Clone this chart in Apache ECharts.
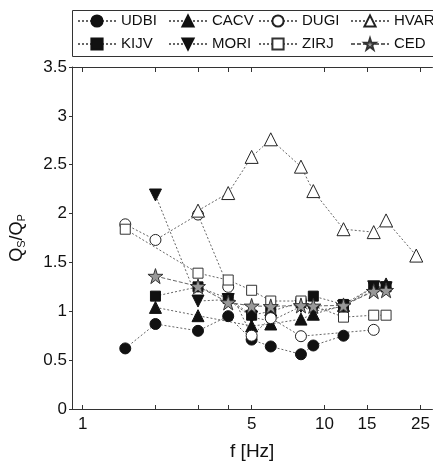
<!DOCTYPE html>
<html>
<head>
<meta charset="utf-8">
<title>Qs/Qp</title>
<script src="https://cdn.jsdelivr.net/npm/echarts@6/dist/echarts.min.js"></script>
<style>
  html, body { margin: 0; padding: 0; background: #fff; }
  #main { width: 433px; height: 466px; }
</style>
</head>
<body>
<div id="main"></div>
<script type="text/javascript">
    // frequency ticks / labels on the log axis
    var tickVals = [1, 2, 3, 4, 5, 10, 15, 25];
    var labelVals = [1, 5, 10, 15, 25];

    // stations: frequency (Hz) and Qs/Qp
    var udbiF = [1.5, 2, 3, 4, 5, 6, 8, 9, 12];
    var udbiV = [0.62, 0.87, 0.80, 0.95, 0.71, 0.64, 0.56, 0.65, 0.75];

    var cacvF = [2, 3, 5, 6, 8, 9, 12, 18];
    var cacvV = [1.04, 0.955, 0.85, 0.87, 0.92, 0.97, 1.06, 1.28];

    var kijvF = [2, 3, 4, 5, 6, 8, 9, 12, 16, 18];
    var kijvV = [1.155, 1.25, 1.13, 0.96, 1.0, 1.09, 1.155, 1.07, 1.25, 1.25];

    var moriF = [2, 3, 4, 5, 6, 8, 9, 12, 16, 18];
    var moriV = [2.19, 1.105, 1.12, 0.94, 0.9, 1.05, 1.0, 1.05, 1.25, 1.24];

    var dugiF = [1.5, 2, 3, 4, 5, 6, 8, 16];
    var dugiV = [1.89, 1.73, 1.99, 1.25, 0.75, 0.93, 0.745, 0.81];

    var zirjF = [1.5, 3, 4, 5, 6, 8, 12, 16, 18];
    var zirjV = [1.84, 1.39, 1.32, 1.215, 1.105, 1.105, 0.94, 0.96, 0.96];

    var hvarF = [3, 4, 5, 6, 8, 9, 12, 16, 18, 24];
    var hvarV = [2.03, 2.21, 2.58, 2.76, 2.48, 2.23, 1.84, 1.81, 1.93, 1.57];

    var cedF = [2, 3, 4, 5, 6, 8, 9, 12, 16, 18];
    var cedV = [1.36, 1.255, 1.09, 1.055, 1.05, 1.06, 1.055, 1.06, 1.205, 1.215];

    var STAR = 'path://M50,0L61.2,34.5L97.6,34.5L68.2,55.9L79.4,90.5L50,69.1L20.6,90.5L31.8,55.9L2.4,34.5L38.8,34.5Z';
    var DOWN = 'path://M0,0L10,0L5,9Z';
    var FONT = '"Liberation Sans", Arial, sans-serif';

    function pairs(f, v) {
        var out = [];
        for (var i = 0; i < f.length; i++) out.push([f[i], v[i]]);
        return out;
    }

    function station(name, f, v, symbol, size, fill, border, dash) {
        return {
            name: name,
            type: 'line',
            data: pairs(f, v),
            symbol: symbol,
            symbolSize: size,
            showAllSymbol: true,
            animation: false,
            lineStyle: { color: '#666', width: 1, type: dash || [2, 2] },
            itemStyle: { color: fill, borderColor: border, borderWidth: 1, opacity: 1 },
            emphasis: { disabled: true }
        };
    }

    var myChart = echarts.init(document.getElementById('main'));

    function legendCol(left, names) {
        return {
            data: names,
            orient: 'vertical',
            left: left,
            top: 13,
            padding: 0,
            itemGap: 7,
            itemWidth: 38,
            itemHeight: 14,
            selectedMode: false,
            textStyle: { fontFamily: FONT, fontSize: 15, color: '#111', lineHeight: 16 }
        };
    }

    var option = {
        backgroundColor: '#fff',
        animation: false,
        textStyle: { fontFamily: FONT },
        graphic: [{
            type: 'rect',
            shape: { x: 72.5, y: 10.5, width: 400, height: 46 },
            style: { fill: 'none', stroke: '#333', lineWidth: 1 },
            silent: true
        }],
        legend: [
            legendCol(77, ['UDBI', 'KIJV']),
            legendCol(168, ['CACV', 'MORI']),
            legendCol(258, ['DUGI', 'ZIRJ']),
            legendCol(350, ['HVAR', 'CED'])
        ],
        grid: { left: 72, top: 67, right: 0, bottom: 51, containLabel: false },
        xAxis: [{
            type: 'log',
            logBase: 10,
            min: 0.903,
            max: 28,
            name: 'f [Hz]',
            nameLocation: 'middle',
            nameGap: 33,
            nameTextStyle: { fontFamily: FONT, fontSize: 19, color: '#111' },
            axisLine: { lineStyle: { color: '#333', width: 1 } },
            axisTick: { inside: true, length: 4, customValues: tickVals, lineStyle: { color: '#333' } },
            axisLabel: { customValues: labelVals, fontFamily: FONT, fontSize: 17, color: '#111', margin: 7 },
            splitLine: { show: false },
            minorTick: { show: false }
        }, {
            type: 'log',
            logBase: 10,
            min: 0.903,
            max: 28,
            position: 'top',
            axisLine: { lineStyle: { color: '#333', width: 1 } },
            axisTick: { inside: true, length: 5, customValues: tickVals, lineStyle: { color: '#333' } },
            axisLabel: { show: false },
            splitLine: { show: false }
        }],
        yAxis: {
            type: 'value',
            min: 0,
            max: 3.5,
            interval: 0.5,
            name: 'Q{s|S}/Q{s|P}',
            nameLocation: 'middle',
            nameRotate: 90,
            nameGap: 45,
            nameTextStyle: {
                fontFamily: FONT, fontSize: 18, color: '#111',
                rich: { s: { fontFamily: FONT, fontSize: 11, color: '#111', verticalAlign: 'bottom', padding: [8, 0, 0, 0] } }
            },
            axisLine: { show: true, lineStyle: { color: '#333', width: 1 } },
            axisTick: { show: true, inside: false, length: 3, lineStyle: { color: '#333' } },
            axisLabel: { fontFamily: FONT, fontSize: 17, color: '#111', margin: 5 },
            splitLine: { show: false }
        },
        series: [
            station('UDBI', udbiF, udbiV, 'circle', 11, '#111', '#111'),
            station('CACV', cacvF, cacvV, 'triangle', 12, '#111', '#111'),
            station('KIJV', kijvF, kijvV, 'rect', 10, '#111', '#111'),
            station('MORI', moriF, moriV, DOWN, 12, '#111', '#111'),
            station('DUGI', dugiF, dugiV, 'circle', 11, '#fff', '#222'),
            station('ZIRJ', zirjF, zirjV, 'rect', 10, '#fff', '#333'),
            station('HVAR', hvarF, hvarV, 'triangle', 13, '#fff', '#222'),
            station('CED', cedF, cedV, STAR, 15, '#999', '#333', [4, 2])
        ]
    };

    myChart.setOption(option);
</script>
</body>
</html>
